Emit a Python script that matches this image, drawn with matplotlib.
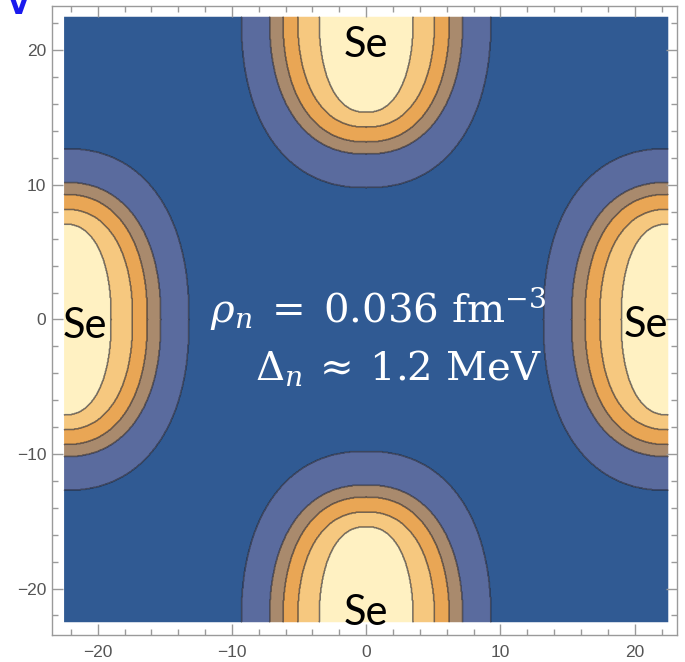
import numpy as np
import matplotlib
matplotlib.use("Agg")
import matplotlib.pyplot as plt
from matplotlib.ticker import MultipleLocator

plt.rcParams["mathtext.fontset"] = "dejavuserif"

# Cell geometry (fm): nuclei sit on the cell edges
cell_half = 22.5
nucleus_centers_x = [0.0, 0.0, -22.5, 22.5]
nucleus_centers_y = [22.5, -22.5, 0.0, 0.0]

# Contour shapes (fm), outermost first: half-width across x, half-extent along y
contour_half_widths = [9.3, 7.2, 6.2, 5.1, 3.5]
contour_half_heights = [12.7, 10.2, 9.3, 8.2, 7.1]
shape_exponent = 2.3
band_colors = ["#305a93", "#5a6b9e", "#a98a6d", "#e9a655", "#f6c87f", "#fff1c2"]

nucleus_labels = ["Se", "Se", "Se", "Se"]
x_ticks = [-20, -10, 0, 10, 20]
y_ticks = [-20, -10, 0, 10, 20]

# Band index: number of nested contours enclosing each grid point
grid = np.linspace(-cell_half, cell_half, 901)
X, Y = np.meshgrid(grid, grid)
band = np.zeros_like(X)
for a, b in zip(contour_half_widths, contour_half_heights):
    inside = np.zeros_like(X, dtype=bool)
    for cx, cy in zip(nucleus_centers_x, nucleus_centers_y):
        r = np.abs((X - cx) / a) ** shape_exponent + np.abs((Y - cy) / b) ** shape_exponent
        inside |= r <= 1.0
    band += inside

levels = np.arange(len(band_colors) + 1) - 0.5

fig = plt.figure(figsize=(6.85, 6.62), dpi=100)
W, H = 685, 662
ax = fig.add_axes([52 / W, 27 / H, 625 / W, 629 / H])

ax.contourf(X, Y, band, levels=levels, colors=band_colors, antialiased=True)
ax.contour(X, Y, band, levels=levels[1:-1], colors="#1e1e28",
           linewidths=1.1, alpha=0.6, linestyles="solid")

ax.set_xlim(-23.4, 23.15)
ax.set_ylim(-23.45, 23.3)

ax.xaxis.set_minor_locator(MultipleLocator(2))
ax.yaxis.set_minor_locator(MultipleLocator(2))
ax.set_xticks(x_ticks)
ax.set_yticks(y_ticks)

for s in ax.spines.values():
    s.set_color("#9a9a9a")
    s.set_linewidth(1.0)
ax.tick_params(which="both", direction="in", top=True, right=True,
               color="#9a9a9a", width=1.0)
ax.tick_params(which="major", length=8)
ax.tick_params(which="minor", length=4.5)
ax.tick_params(axis="x", which="major", pad=7)
ax.tick_params(axis="y", which="major", pad=4)
for lab in ax.get_xticklabels() + ax.get_yticklabels():
    lab.set_fontfamily("Liberation Sans")
    lab.set_fontsize(12.5)
    lab.set_color("#555555")

# Nucleus labels
se_kw = dict(fontsize=30, family="Lato", color="black")
ax.text(0.0, 19.5, nucleus_labels[0], ha="center", va="baseline", **se_kw)
ax.text(0.0, -22.7, nucleus_labels[1], ha="center", va="baseline", **se_kw)
ax.text(-22.6, -1.4, nucleus_labels[2], ha="left", va="baseline", **se_kw)
ax.text(22.5, -1.3, nucleus_labels[3], ha="right", va="baseline", **se_kw)

# Density / gap annotation
ax.text(-11.6, -0.2, r"$\rho_n\;=\;0.036\ \mathrm{fm}^{-3}$", color="white",
        fontsize=29, ha="left", va="baseline")
ax.text(-8.3, -4.5, r"$\Delta_n\:\approx\:1.2\ \mathrm{MeV}$", color="white",
        fontsize=29, ha="left", va="baseline")

# Panel letter at the top-left corner
fig.text(18.5 / W, 1 - 14 / H, "V", color="#1a1aee", fontsize=20,
         fontweight="bold", ha="center", va="baseline")

fig.savefig("out.png", dpi=100)
